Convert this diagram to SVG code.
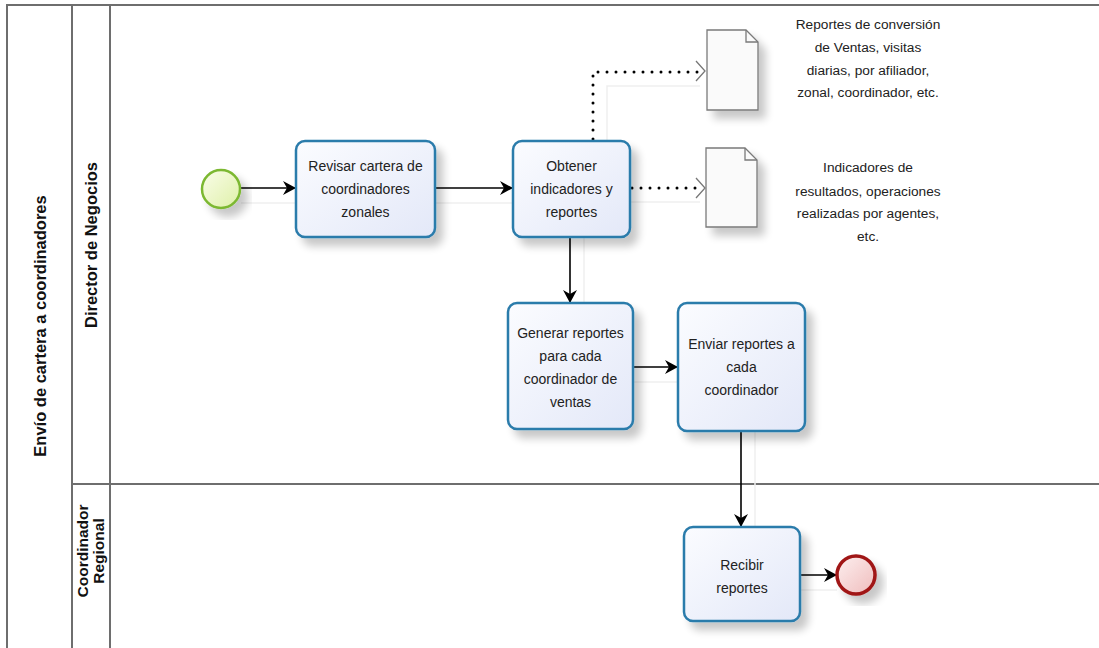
<svg xmlns="http://www.w3.org/2000/svg" width="1099" height="648" viewBox="0 0 1099 648">
  <style>
    .frame { fill: none; stroke: #6e6e6e; stroke-width: 2; }
    .task { fill: url(#taskFill); stroke: #2b7bab; stroke-width: 2.5; filter: url(#shadow); }
    .label { font-family: "Liberation Sans", Arial, sans-serif; font-size: 14px; fill: #222; text-anchor: middle; }
    .note { font-family: "Liberation Sans", Arial, sans-serif; font-size: 13.7px; fill: #222; text-anchor: middle; }
    .lane { font-family: "Liberation Sans", Arial, sans-serif; font-size: 16.5px; font-weight: bold; fill: #111; text-anchor: middle; }
    .lane-sm { font-family: "Liberation Sans", Arial, sans-serif; font-size: 15.5px; font-weight: bold; fill: #111; text-anchor: middle; }
    .flow { fill: none; stroke: #000; stroke-width: 1.6; }
    .assoc { fill: none; stroke: #000; stroke-width: 3; stroke-linecap: round; stroke-dasharray: 0 9; }
    .ghost { fill: none; stroke: #efefef; stroke-width: 1.5; }
    .doc { fill: #fafafa; stroke: #7a7a7a; stroke-width: 1.3; filter: url(#shadow); }
  </style>
  <defs>
    <linearGradient id="taskFill" x1="0" y1="0" x2="1" y2="1">
      <stop offset="0" stop-color="#fbfcff"/>
      <stop offset="1" stop-color="#e3e8f8"/>
    </linearGradient>
    <linearGradient id="startFill" x1="0" y1="0" x2="1" y2="1">
      <stop offset="0" stop-color="#fafde9"/>
      <stop offset="1" stop-color="#def0a8"/>
    </linearGradient>
    <linearGradient id="endFill" x1="0" y1="0" x2="1" y2="1">
      <stop offset="0" stop-color="#fdf0f0"/>
      <stop offset="1" stop-color="#efbcbc"/>
    </linearGradient>
    <filter id="shadow" x="-20%" y="-20%" width="150%" height="150%">
      <feGaussianBlur in="SourceAlpha" stdDeviation="4"/>
      <feOffset dx="7" dy="8" result="b"/>
      <feComponentTransfer><feFuncA type="linear" slope="0.22"/></feComponentTransfer>
      <feMerge><feMergeNode/><feMergeNode in="SourceGraphic"/></feMerge>
    </filter>
    <marker id="arrow" markerWidth="14" markerHeight="14" refX="13" refY="7" orient="auto" markerUnits="userSpaceOnUse">
      <path d="M0,0 L13,7 L0,14 L4,7 Z" fill="#000"/>
    </marker>
  </defs>

  <rect width="1099" height="648" fill="#fff"/>

  <!-- pool and lanes -->
  <g id="pool">
    <path class="frame" d="M7,648 V5 H1099" stroke="#333"/>
    <line class="frame" x1="72" y1="5" x2="72" y2="648"/>
    <line class="frame" x1="110" y1="5" x2="110" y2="648"/>
    <line class="frame" x1="72" y1="484" x2="1099" y2="484"/>
    <text class="lane" transform="translate(46,326) rotate(-90)">Envío de cartera a coordinadores</text>
    <text class="lane" transform="translate(97,245) rotate(-90)">Director de Negocios</text>
    <text class="lane-sm" transform="translate(88,551) rotate(-90)">Coordinador</text>
    <text class="lane-sm" transform="translate(104,551) rotate(-90)">Regional</text>
  </g>

  <!-- connectors -->
  <g id="connectors">
    <path class="ghost" d="M241,203 H296 M435,203 H513 M607,141 V86 H700 M630,202 H700 M584,237 V303 M633,382 H678 M755,431 V527 M800,590 H837"/>
    <path class="flow" d="M241,188 H296" marker-end="url(#arrow)"/>
    <path class="flow" d="M435,188 H513" marker-end="url(#arrow)"/>
    <path class="flow" d="M570,237 V303" marker-end="url(#arrow)"/>
    <path class="flow" d="M633,367 H678" marker-end="url(#arrow)"/>
    <path class="flow" d="M741,431 V527" marker-end="url(#arrow)"/>
    <path class="flow" d="M800,575 H837" marker-end="url(#arrow)"/>
    <path class="assoc" d="M593,139 V72 H700"/>
    <path d="M696,61 L705,71 L696,81" fill="none" stroke="#777" stroke-width="1.3"/>
    <path class="assoc" d="M632,188 H700"/>
    <path d="M696,178 L705,188 L696,198" fill="none" stroke="#777" stroke-width="1.3"/>
  </g>

  <!-- events -->
  <g id="start">
    <circle cx="221" cy="189" r="19" fill="url(#startFill)" stroke="#7cb830" stroke-width="2.5" filter="url(#shadow)"/>
  </g>
  <g id="end">
    <circle cx="856" cy="575" r="19" fill="url(#endFill)" stroke="#a01616" stroke-width="3.5" filter="url(#shadow)"/>
  </g>

  <!-- tasks -->
  <g id="revisar">
    <rect class="task" x="296" y="141" width="139" height="96" rx="9"/>
    <text class="label" x="365.5" y="171">Revisar cartera de</text>
    <text class="label" x="365.5" y="194">coordinadores</text>
    <text class="label" x="365.5" y="217">zonales</text>
  </g>
  <g id="obtener">
    <rect class="task" x="513" y="141" width="117" height="96" rx="9"/>
    <text class="label" x="571.5" y="171">Obtener</text>
    <text class="label" x="571.5" y="194">indicadores y</text>
    <text class="label" x="571.5" y="217">reportes</text>
  </g>
  <g id="generar">
    <rect class="task" x="508" y="303" width="125" height="126" rx="9"/>
    <text class="label" x="570.5" y="338">Generar reportes</text>
    <text class="label" x="570.5" y="361">para cada</text>
    <text class="label" x="570.5" y="384">coordinador de</text>
    <text class="label" x="570.5" y="407">ventas</text>
  </g>
  <g id="enviar">
    <rect class="task" x="678" y="303" width="127" height="128" rx="9"/>
    <text class="label" x="741.5" y="349">Enviar reportes a</text>
    <text class="label" x="741.5" y="372">cada</text>
    <text class="label" x="741.5" y="395">coordinador</text>
  </g>
  <g id="recibir">
    <rect class="task" x="684" y="527" width="116" height="94" rx="9"/>
    <text class="label" x="742" y="570">Recibir</text>
    <text class="label" x="742" y="593">reportes</text>
  </g>

  <!-- data objects -->
  <g id="doc-reportes">
    <path class="doc" d="M707,30 H746 L758,42 V110 H707 Z"/>
    <path d="M746,30 V42 H758" fill="none" stroke="#7a7a7a" stroke-width="1.3"/>
    <text class="note" x="868" y="29">Reportes de conversión</text>
    <text class="note" x="868" y="52">de Ventas, visitas</text>
    <text class="note" x="868" y="75">diarias, por afiliador,</text>
    <text class="note" x="868" y="97">zonal, coordinador, etc.</text>
  </g>
  <g id="doc-indicadores">
    <path class="doc" d="M706,148 H745 L757,160 V227 H706 Z"/>
    <path d="M745,148 V160 H757" fill="none" stroke="#7a7a7a" stroke-width="1.3"/>
    <text class="note" x="868" y="172">Indicadores de</text>
    <text class="note" x="868" y="196">resultados, operaciones</text>
    <text class="note" x="868" y="218">realizadas por agentes,</text>
    <text class="note" x="868" y="241">etc.</text>
  </g>
</svg>
